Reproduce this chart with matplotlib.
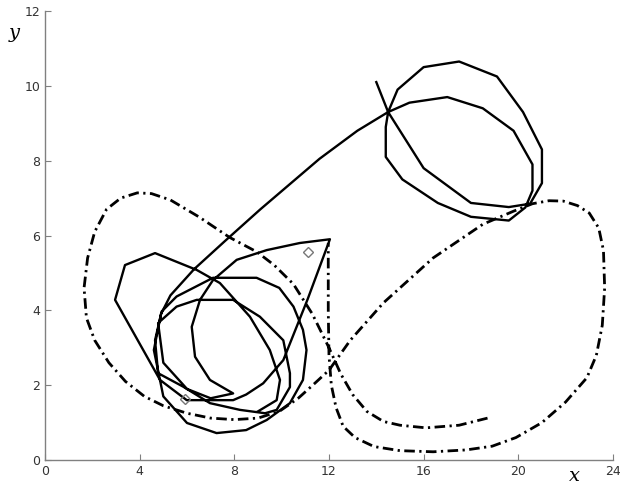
import matplotlib
matplotlib.use('Agg')
import matplotlib.pyplot as plt

# 实线轨迹 (x, y)
solid_x = [14.0, 14.5, 16.0, 18.0, 19.6, 20.5, 21.0, 21.0, 20.2, 19.1, 17.5, 16.0, 14.9, 14.5,
           15.4, 17.0, 18.5, 19.8, 20.6, 20.6, 20.3, 19.6, 18.0, 16.6, 15.1, 14.4, 14.4, 14.5,
           13.2, 11.6, 9.1, 7.6, 6.3, 5.3,
           4.9, 4.6, 5.0, 6.0, 7.25, 8.5, 9.37, 10.35, 10.9, 11.05, 10.9, 10.5, 9.9, 8.94, 7.1, 5.56,
           4.93, 4.65, 4.78,
           5.84, 6.97, 8.24, 9.3, 9.79, 10.35, 10.35, 10.07, 9.08, 7.95, 6.41, 5.56, 4.78,
           5.0, 6.0, 7.0, 7.95,
           6.97, 6.34, 6.2, 6.55, 7.1, 8.1, 9.37, 10.77, 12.04, 11.1, 10.07, 9.22, 8.5,
           7.95, 5.99, 4.86, 2.96, 3.38, 4.65, 6.41, 7.39, 8.66, 9.5, 9.93, 9.79, 9.0]
solid_y = [10.1, 9.3, 7.8, 6.87, 6.76, 6.85, 7.4, 8.3, 9.3, 10.25, 10.65, 10.5, 9.9, 9.3,
           9.55, 9.7, 9.4, 8.8, 7.9, 7.2, 6.75, 6.4, 6.5, 6.87, 7.5, 8.1, 8.9, 9.3,
           8.8, 8.05, 6.7, 5.85, 5.1, 4.4,
           3.9, 2.94, 1.7, 0.99, 0.72, 0.8, 1.07, 1.52, 2.14, 2.94, 3.48, 4.1, 4.6, 4.87, 4.87, 4.37,
           3.97, 3.2, 2.32,
           1.96, 1.52, 1.34, 1.25, 1.34, 1.95, 2.32, 3.2, 3.83, 4.28, 4.28, 4.1, 3.66,
           2.6, 1.9, 1.65, 1.78,
           2.14, 2.76, 3.56, 4.28, 4.81, 5.35, 5.61, 5.8, 5.9, 4.3, 2.67, 2.05, 1.75,
           1.6, 1.6, 2.14, 4.28, 5.21, 5.53, 5.08, 4.73, 3.83, 2.94, 2.14, 1.6, 1.3]

# 点划线轨迹 (x, y)
dash_x = [18.7, 17.5, 16.1, 15.0, 14.3, 13.6, 13.0, 12.5, 12.0, 11.3, 10.5, 9.7, 8.96, 7.8,
          6.5, 5.3, 4.5, 3.9, 3.2, 2.6, 2.1, 1.8, 1.65, 1.75, 2.1, 2.7, 3.4, 4.2, 5.0, 6.0,
          7.0, 8.0, 9.0, 9.9, 10.7, 11.4, 12.0, 12.9, 14.3, 16.4, 18.5, 19.8, 20.6, 21.3,
          21.9, 22.5, 23.0, 23.4, 23.6, 23.65, 23.55, 23.3, 22.9, 22.0, 21.0, 19.9, 18.9,
          17.8, 16.4, 15.0, 13.9, 13.1, 12.6, 12.3, 12.1, 12.0, 11.97, 11.97, 11.97]
dash_y = [1.12, 0.93, 0.86, 0.93, 1.03, 1.3, 1.75, 2.3, 3.0, 3.9, 4.7, 5.2, 5.56, 5.95,
          6.5, 6.95, 7.12, 7.14, 7.0, 6.7, 6.1, 5.4, 4.6, 3.8, 3.2, 2.6, 2.1, 1.7, 1.45, 1.25,
          1.12, 1.08, 1.12, 1.3, 1.65, 2.05, 2.4, 3.2, 4.2, 5.4, 6.3, 6.65, 6.85, 6.93,
          6.92, 6.8, 6.6, 6.2, 5.6, 4.6, 3.6, 2.8, 2.2, 1.55, 1.0, 0.6, 0.37,
          0.27, 0.22, 0.25, 0.36, 0.6, 0.9, 1.4, 2.0, 2.8, 4.0, 5.0, 5.8]

# 起点标记
mark_x = [5.9, 11.1]
mark_y = [1.62, 5.55]

x_ticks = [0, 4, 8, 12, 16, 20, 24]
y_ticks = [0, 2, 4, 6, 8, 10, 12]

fig = plt.figure(figsize=(6.2, 4.87), dpi=100)
ax = fig.add_axes([0.0726, 0.0554, 0.916, 0.922])

ax.plot(dash_x, dash_y, color='black', lw=2.0, linestyle=(0, (3.8, 1.6, 0.8, 1.6)))
ax.plot(solid_x, solid_y, color='black', lw=1.7)
ax.plot(mark_x, mark_y, linestyle='none', marker='D', ms=5, mfc='none', mec='#777777', mew=1)

ax.set_xlim(0, 24)
ax.set_ylim(0, 12)
ax.set_xticks(x_ticks)
ax.set_yticks(y_ticks)

for s in ['top', 'right']:
    ax.spines[s].set_visible(False)
for s in ['left', 'bottom']:
    ax.spines[s].set_color('#808080')
    ax.spines[s].set_linewidth(1.0)
ax.tick_params(direction='in', length=4, color='#808080', labelsize=9, labelcolor='#333333')

fig.text(14 / 620, 1 - 33 / 487, 'y', fontsize=14, style='italic', family='DejaVu Serif',
         ha='center', va='center')
fig.text(574 / 620, 1 - 476 / 487, 'x', fontsize=14, style='italic', family='DejaVu Serif',
         ha='center', va='center')

plt.savefig('out.png', dpi=100)
